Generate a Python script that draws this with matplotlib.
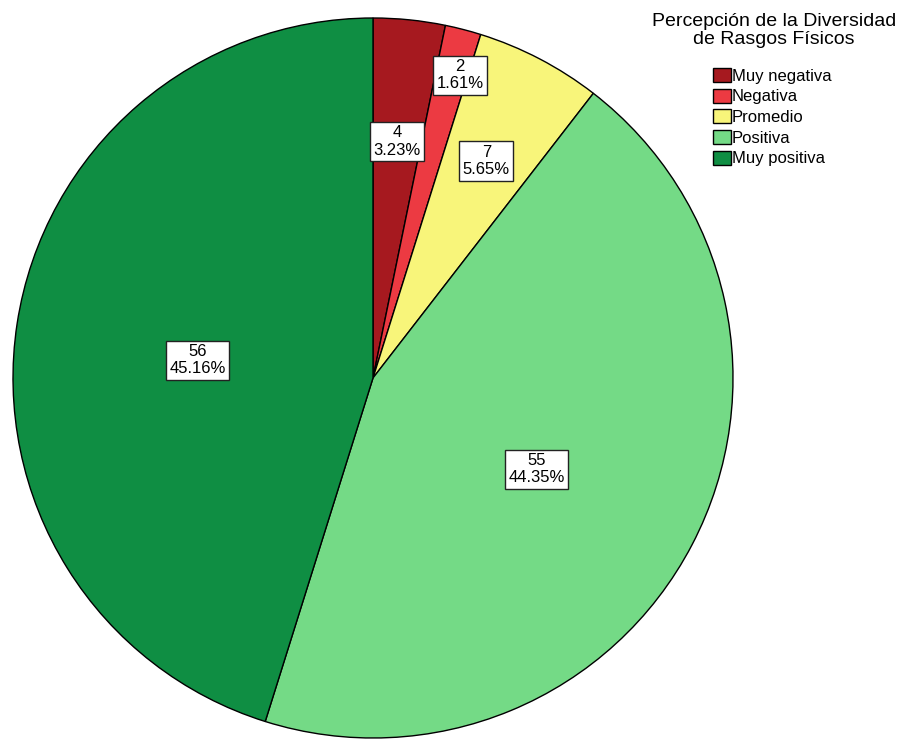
import numpy as np
import matplotlib
matplotlib.use("Agg")
import matplotlib.pyplot as plt

plt.rcParams["font.family"] = ["Liberation Sans", "DejaVu Sans"]

categorias = ["Muy negativa", "Negativa", "Promedio", "Positiva", "Muy positiva"]
frecuencias = [4, 2, 7, 55, 56]
colores = ["#A6191F", "#EC3A42", "#F8F57A", "#74DA86", "#0F8E43"]
titulo = "Percepción de la Diversidad\nde Rasgos Físicos"

# value labels: radial position (fraction of radius) and angular nudge (deg, clockwise)
pos_etiqueta = [0.66, 0.875, 0.68, 0.52, 0.49]
giro_etiqueta = [0.0, 1.5, 0.0, 1.6, -2.9]

W, H = 902, 740
fig = plt.figure(figsize=(W / 100, H / 100), dpi=100)
ax = fig.add_axes([0, 0, 1, 1])

centro = (373, H - 378)
radio = 360
wedges, _ = ax.pie(frecuencias, colors=colores, startangle=90, counterclock=False,
                   center=centro, radius=radio,
                   wedgeprops=dict(edgecolor="black", linewidth=1.0))
ax.set_xlim(0, W)
ax.set_ylim(0, H)
ax.set_aspect("equal")
ax.axis("off")

total = sum(frecuencias)
for w, n, f, g in zip(wedges, frecuencias, pos_etiqueta, giro_etiqueta):
    ang = np.deg2rad((w.theta1 + w.theta2) / 2 - g)
    x = centro[0] + f * radio * np.cos(ang)
    y = centro[1] + f * radio * np.sin(ang)
    ax.text(x, y, f"{n}\n{n / total * 100:.2f}%", ha="center", va="center",
            fontsize=12, linespacing=1.2, multialignment="center",
            bbox=dict(boxstyle="square,pad=0.2", facecolor="white",
                      edgecolor="#222222", linewidth=1.0))

# legend title drawn on its own so the gap to the entries can be set freely
fig.text(774 / W, 1 - 13 / H, titulo, ha="center", va="top", fontsize=14,
         linespacing=1.05, multialignment="center")
leg = fig.legend(wedges, categorias, loc="upper left",
                 bbox_to_anchor=(713 / W, 1 - 68 / H), frameon=False,
                 fontsize=12, handlelength=1.08, handleheight=0.9,
                 handletextpad=0.05, labelspacing=0.3,
                 borderpad=0, borderaxespad=0)

fig.savefig("out.png", dpi=100)
